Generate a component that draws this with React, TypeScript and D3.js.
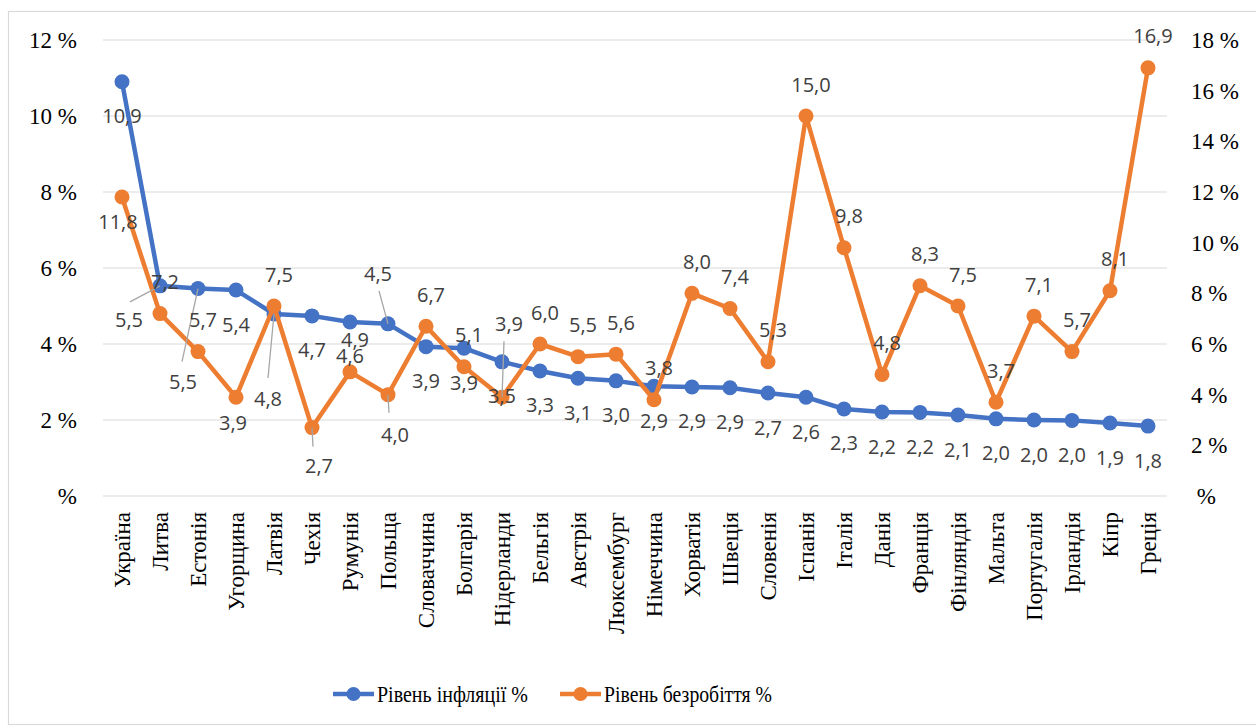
import { useRef, useEffect } from "react";
import * as d3 from "d3";

// values
const categories = [
  "Україна", "Литва", "Естонія", "Угорщина", "Латвія", "Чехія", "Румунія", "Польща",
  "Словаччина", "Болгарія", "Нідерланди", "Бельгія", "Австрія", "Люксембург", "Німеччина",
  "Хорватія", "Швеція", "Словенія", "Іспанія", "Італія", "Данія", "Франція", "Фінляндія",
  "Мальта", "Португалія", "Ірландія", "Кіпр", "Греція",
];
const inflation = [
  10.9, 5.53, 5.46, 5.42, 4.79, 4.74, 4.58, 4.53, 3.93, 3.89, 3.53, 3.29, 3.1, 3.03, 2.89,
  2.87, 2.85, 2.71, 2.6, 2.29, 2.21, 2.2, 2.13, 2.03, 2.0, 1.99, 1.92, 1.84,
];
const unemployment = [
  11.8, 7.2, 5.7, 3.9, 7.5, 2.7, 4.9, 4.0, 6.7, 5.1, 3.9, 6.0, 5.5, 5.6, 3.8,
  8.0, 7.4, 5.3, 15.0, 9.8, 4.8, 8.3, 7.5, 3.7, 7.1, 5.7, 8.1, 16.9,
];
const leftTicks = [0, 2, 4, 6, 8, 10, 12];
const rightTicks = [0, 2, 4, 6, 8, 10, 12, 14, 16, 18];
const seriesNames = ["Рівень інфляції %", "Рівень безробіття %"];

// hand-moved data labels (offset of label centre, and optional leader line end)
type Nudge = { dx: number; dy: number; lx?: number; ly?: number };
const nudges: Record<string, Nudge> = {
  "i:Литва": { dx: -31, dy: 34, lx: -30, ly: 16 },
  "i:Естонія": { dx: -15, dy: 93, lx: -16, ly: 73 },
  "i:Латвія": { dx: -6, dy: 85, lx: -6, ly: 64 },
  "i:Польща": { dx: -10, dy: -50, lx: -9, ly: -33 },
  "u:Україна": { dx: -4, dy: 24 },
  "u:Угорщина": { dx: -3, dy: 25 },
  "u:Чехія": { dx: 7, dy: 38, lx: 1, ly: 19 },
  "u:Польща": { dx: 7, dy: 40, lx: 1, ly: 18 },
  "u:Нідерланди": { dx: 7, dy: -74, lx: 2, ly: -56 },
};

const BLUE = "#4472C4";
const ORANGE = "#ED7D31";
const SERIF = "'Liberation Serif', 'Times New Roman', serif";
const SANS = "'Open Sans', 'Noto Sans', sans-serif";

export default function App() {
  const ref = useRef<SVGSVGElement | null>(null);

  useEffect(() => {
    if (!ref.current) return;
    const svg = d3.select(ref.current);
    svg.selectAll("*").remove();

    const left = 103, right = 1167, top = 40, bottom = 496;

    svg.append("rect").attr("x", 8.5).attr("y", 11.5).attr("width", 1300).attr("height", 713)
      .attr("fill", "#fff").attr("stroke", "#d9d9d9").attr("stroke-width", 1.2);

    const x = d3.scaleBand<string>().domain(categories).range([left, right]);
    const cx = (c: string) => (x(c) as number) + x.bandwidth() / 2;
    const yL = d3.scaleLinear().domain([0, 12]).range([bottom, top]);
    const yR = d3.scaleLinear().domain([0, 18]).range([bottom, top]);

    // grid
    svg.append("g").selectAll("line").data(leftTicks).join("line")
      .attr("x1", left).attr("x2", right)
      .attr("y1", d => yL(d)).attr("y2", d => yL(d))
      .attr("stroke", "#d9d9d9").attr("stroke-width", 1.2);

    // axes
    const axL = svg.append("g").attr("transform", `translate(${left - 26},0)`)
      .call(d3.axisLeft(yL).tickValues(leftTicks).tickSize(0).tickPadding(0)
        .tickFormat(d => (+d === 0 ? "%" : `${d} %`)));
    const axR = svg.append("g").attr("transform", `translate(${right + 24},0)`)
      .call(d3.axisRight(yR).tickValues(rightTicks).tickSize(0).tickPadding(0)
        .tickFormat(d => (+d === 0 ? "\u00a0%" : `${d} %`)));
    [axL, axR].forEach(a => {
      a.select(".domain").remove();
      a.attr("font-family", SERIF);
      a.selectAll("text").attr("font-family", SERIF).attr("font-size", 23).attr("fill", "#000");
    });

    const axX = svg.append("g").attr("transform", `translate(0,${bottom})`)
      .call(d3.axisBottom(x).tickSize(0).tickPadding(0));
    axX.select(".domain").remove();
    axX.attr("font-family", SERIF);
    axX.selectAll("text")
      .attr("font-family", SERIF).attr("font-size", 23).attr("fill", "#000")
      .attr("text-anchor", "end").attr("transform", "rotate(-90)")
      .attr("x", -16).attr("y", 0).attr("dy", "0.33em");

    const fmt = (v: number) => v.toFixed(1).replace(".", ",");

    const series = [
      { key: "i", values: inflation, y: yL, color: BLUE, defDx: 0, defDy: 34 },
      { key: "u", values: unemployment, y: yR, color: ORANGE, defDx: 5, defDy: -32 },
    ];

    series.forEach(s => {
      const pts = categories.map((c, i) => [cx(c), s.y(s.values[i])] as [number, number]);
      svg.append("path").attr("d", d3.line()(pts) as string)
        .attr("fill", "none").attr("stroke", s.color).attr("stroke-width", 4.5)
        .attr("stroke-linejoin", "round");
      svg.append("g").selectAll("circle").data(pts).join("circle")
        .attr("cx", d => d[0]).attr("cy", d => d[1]).attr("r", 7.5).attr("fill", s.color);
    });

    const labels = svg.append("g");
    series.forEach(s => {
      categories.forEach((c, i) => {
        const px = cx(c), py = s.y(s.values[i]);
        const n = nudges[`${s.key}:${c}`] || { dx: s.defDx, dy: s.defDy };
        if (n.lx !== undefined && n.ly !== undefined) {
          labels.append("line").attr("x1", px).attr("y1", py)
            .attr("x2", px + n.lx).attr("y2", py + n.ly)
            .attr("stroke", "#a6a6a6").attr("stroke-width", 1.3);
        }
        labels.append("text").attr("x", px + n.dx).attr("y", py + n.dy)
          .attr("text-anchor", "middle").attr("dominant-baseline", "central")
          .attr("font-family", SANS).attr("font-size", 20).attr("fill", "#404040")
          .text(fmt(s.values[i]));
      });
    });

    // legend
    const lg = svg.append("g");
    const items = [
      { name: seriesNames[0], color: BLUE, x0: 333, w: 151 },
      { name: seriesNames[1], color: ORANGE, x0: 560, w: 168 },
    ];
    items.forEach(it => {
      lg.append("line").attr("x1", it.x0).attr("x2", it.x0 + 41).attr("y1", 694).attr("y2", 694)
        .attr("stroke", it.color).attr("stroke-width", 4.5);
      lg.append("circle").attr("cx", it.x0 + 20.5).attr("cy", 694).attr("r", 7).attr("fill", it.color);
      lg.append("text").attr("x", it.x0 + 44).attr("y", 694).attr("dominant-baseline", "central")
        .attr("font-family", SERIF).attr("font-size", 24).attr("fill", "#000")
        .attr("textLength", it.w).attr("lengthAdjust", "spacingAndGlyphs").text(it.name);
    });
  }, []);

  return (
    <svg ref={ref} width={1256} height={726}
      style={{ position: "absolute", left: 0, top: 0, display: "block" }} />
  );
}
